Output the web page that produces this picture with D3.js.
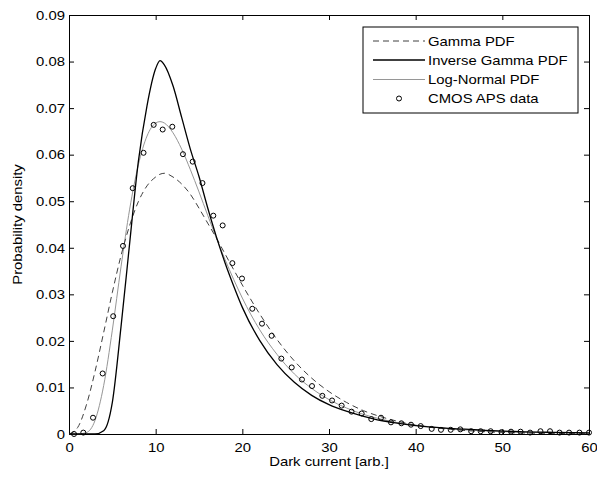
<!DOCTYPE html>
<html>
<head>
<meta charset="utf-8">
<script src="https://cdn.jsdelivr.net/npm/d3@7"></script>
<style>
  body { margin: 0; background: #fff; }
  svg text { font-family: "Liberation Sans", Arial, sans-serif; }
</style>
</head>
<body>
<div id="chart"></div>
<script>
const curveX = [0, 1, 2, 3, 4, 5, 6, 7, 8, 9, 10, 10.5, 11, 12, 13, 14, 15, 16, 17, 18, 19, 20,
  22, 24, 26, 28, 30, 32, 34, 36, 38, 40, 44, 48, 52, 56, 60];

// Gamma PDF (dashed)
const gammaPdf = [0, 0.0014, 0.0062, 0.0134, 0.0218, 0.0304, 0.0383, 0.0448, 0.0499, 0.0533, 0.0552, 0.0558, 0.0560,
  0.0552, 0.0537, 0.0515, 0.0485, 0.0453, 0.0421, 0.0387, 0.0353, 0.0320,
  0.0258, 0.0203, 0.0157, 0.0120, 0.0091, 0.0068, 0.0050, 0.0037, 0.0027, 0.0019, 0.0010, 0.0005, 0.00024, 0.00012, 0.00006];

// Inverse Gamma PDF (black)
const invGammaPdf = [0, 0, 0, 0, 0.0007, 0.0068, 0.0230, 0.0410, 0.0585, 0.0705, 0.0785, 0.0802, 0.0793,
  0.0748, 0.0680, 0.0612, 0.0553, 0.0486, 0.0424, 0.0368, 0.0318, 0.0272,
  0.0201, 0.0149, 0.0111, 0.0083, 0.0063, 0.0049, 0.0038, 0.0029, 0.0023, 0.0018, 0.0012, 0.0008, 0.0005, 0.00035, 0.00024];

// Log-Normal PDF (grey)
const logNormPdf = [0, 0, 0.0003, 0.0029, 0.0104, 0.0223, 0.0359, 0.0483, 0.0578, 0.0640, 0.0668, 0.0671, 0.0668,
  0.0647, 0.0612, 0.0568, 0.0520, 0.0470, 0.0421, 0.0375, 0.0332, 0.0292,
  0.0224, 0.0171, 0.0129, 0.0098, 0.0074, 0.0056, 0.0042, 0.0032, 0.0024, 0.0019, 0.0011, 0.00066, 0.0004, 0.00025, 0.00015];

// CMOS APS data (histogram points)
const dataX = [0.58, 1.65, 2.77, 3.88, 5.1, 6.23, 7.35, 8.6, 9.77, 10.81, 11.92, 13.15, 14.27, 15.4, 16.65, 17.73,
  18.85, 19.96, 21.15, 22.27, 23.38, 24.5, 25.7, 26.88, 28.04, 29.23, 30.35, 31.46, 32.6, 33.77, 34.88, 36.0,
  37.15, 38.35, 39.46, 40.58, 41.85, 42.92, 44.04, 45.15, 46.4, 47.5, 48.65, 49.9, 51.0, 52.1, 53.2, 54.4,
  55.5, 56.6, 57.7, 58.9, 60.0];
const dataY = [0, 0.0003, 0.0035, 0.0130, 0.0253, 0.0404, 0.0528, 0.0604, 0.0664, 0.0654, 0.0660, 0.0601, 0.0585, 0.0539, 0.0469, 0.0448,
  0.0367, 0.0334, 0.0269, 0.0237, 0.0211, 0.0162, 0.0143, 0.0117, 0.0103, 0.0082, 0.0072, 0.0061, 0.0048, 0.0044, 0.0032, 0.0035,
  0.0025, 0.0023, 0.0020, 0.0017, 0.0011, 0.0009, 0.0009, 0.0010, 0.0006, 0.0006, 0.0006, 0.0004, 0.0005, 0.0005, 0.0003, 0.0006,
  0.0006, 0.0003, 0.0003, 0.0003, 0.0003];

const xTicks = [0, 10, 20, 30, 40, 50, 60];
const yTicks = [0, 0.01, 0.02, 0.03, 0.04, 0.05, 0.06, 0.07, 0.08, 0.09];
const yTickLabels = ["0", "0.01", "0.02", "0.03", "0.04", "0.05", "0.06", "0.07", "0.08", "0.09"];
const legendLabels = ["Gamma PDF", "Inverse Gamma PDF", "Log-Normal PDF", "CMOS APS data"];

// set the dimensions and margins of the graph
const margin = { top: 15, right: 8, bottom: 47, left: 69 },
  width = 597 - margin.left - margin.right,
  height = 481 - margin.top - margin.bottom;

const svg = d3.select("#chart")
  .append("svg")
  .attr("width", width + margin.left + margin.right)
  .attr("height", height + margin.top + margin.bottom)
  .append("g")
  .attr("transform", `translate(${margin.left},${margin.top})`);

const x = d3.scaleLinear().domain([0, 60]).range([0, width]);
const y = d3.scaleLinear().domain([0, 0.09]).range([height, 0]);

// axes, matlab style: inward ticks on all four sides
const fontSize = "13.5px";
svg.append("g")
  .attr("transform", `translate(0,${height})`)
  .call(d3.axisBottom(x).tickValues(xTicks).tickSizeInner(-5).tickSizeOuter(0).tickPadding(8))
  .call(g => g.selectAll("text").style("font-size", fontSize).attr("fill", "#000"));

svg.append("g")
  .call(d3.axisLeft(y).tickValues(yTicks).tickFormat((d, i) => yTickLabels[i]).tickSizeInner(-5).tickSizeOuter(0).tickPadding(4))
  .call(g => g.selectAll("text").style("font-size", fontSize).attr("fill", "#000"));

svg.append("g")
  .call(d3.axisTop(x).tickValues(xTicks).tickSizeInner(-5).tickSizeOuter(0).tickFormat(""));

svg.append("g")
  .attr("transform", `translate(${width},0)`)
  .call(d3.axisRight(y).tickValues(yTicks).tickSizeInner(-5).tickSizeOuter(0).tickFormat(""));

svg.selectAll(".domain, .tick line").attr("stroke", "#000");

// curves
const rows = (ys) => curveX.map((xv, i) => [xv, ys[i]]);
const line = d3.line()
  .x(d => x(d[0]))
  .y(d => y(d[1]))
  .curve(d3.curveMonotoneX);

svg.append("path").datum(rows(logNormPdf))
  .attr("fill", "none").attr("stroke", "#969696").attr("stroke-width", 1)
  .attr("d", line);

svg.append("path").datum(rows(gammaPdf))
  .attr("fill", "none").attr("stroke", "#404040").attr("stroke-width", 1)
  .attr("stroke-dasharray", "6,4")
  .attr("d", line);

svg.append("path").datum(rows(invGammaPdf))
  .attr("fill", "none").attr("stroke", "#000").attr("stroke-width", 1.3)
  .attr("d", line);

svg.selectAll(".pt")
  .data(dataX.map((xv, i) => [xv, dataY[i]]))
  .join("circle")
  .attr("class", "pt")
  .attr("cx", d => x(d[0]))
  .attr("cy", d => y(d[1]))
  .attr("r", 2.5)
  .attr("fill", "none")
  .attr("stroke", "#000")
  .attr("stroke-width", 1);

// Handmade legend
const lg = svg.append("g").attr("transform", `translate(${363 - margin.left},${27 - margin.top})`);
lg.append("rect").attr("width", 215).attr("height", 86)
  .attr("fill", "#fff").attr("stroke", "#000").attr("stroke-width", 1);

const rowY = [14, 33, 52.5, 71.5];
lg.append("line").attr("x1", 10).attr("x2", 62).attr("y1", rowY[0]).attr("y2", rowY[0])
  .attr("stroke", "#404040").attr("stroke-dasharray", "6,4");
lg.append("line").attr("x1", 10).attr("x2", 62).attr("y1", rowY[1]).attr("y2", rowY[1])
  .attr("stroke", "#000").attr("stroke-width", 1.3);
lg.append("line").attr("x1", 10).attr("x2", 62).attr("y1", rowY[2]).attr("y2", rowY[2])
  .attr("stroke", "#969696");
lg.append("circle").attr("cx", 36).attr("cy", rowY[3]).attr("r", 2.5)
  .attr("fill", "none").attr("stroke", "#000");

lg.selectAll(".lgtext")
  .data(legendLabels)
  .join("text")
  .attr("class", "lgtext")
  .attr("x", 65)
  .attr("y", (d, i) => rowY[i])
  .attr("dy", "0.35em")
  .style("font-size", fontSize)
  .text(d => d);

// axis titles
svg.append("text")
  .attr("x", width / 2).attr("y", height + 32)
  .attr("text-anchor", "middle")
  .style("font-size", fontSize)
  .text("Dark current [arb.]");

svg.append("text")
  .attr("transform", `translate(${17 - margin.left},${height / 2}) rotate(-90)`)
  .attr("text-anchor", "middle")
  .attr("dy", "0.35em")
  .style("font-size", fontSize)
  .text("Probability density");

// the original figure's lettering is a bit wider than its height suggests
d3.selectAll("svg text").each(function () {
  const w = this.getComputedTextLength();
  d3.select(this).attr("textLength", w * 1.1).attr("lengthAdjust", "spacingAndGlyphs");
});
</script>
</body>
</html>
